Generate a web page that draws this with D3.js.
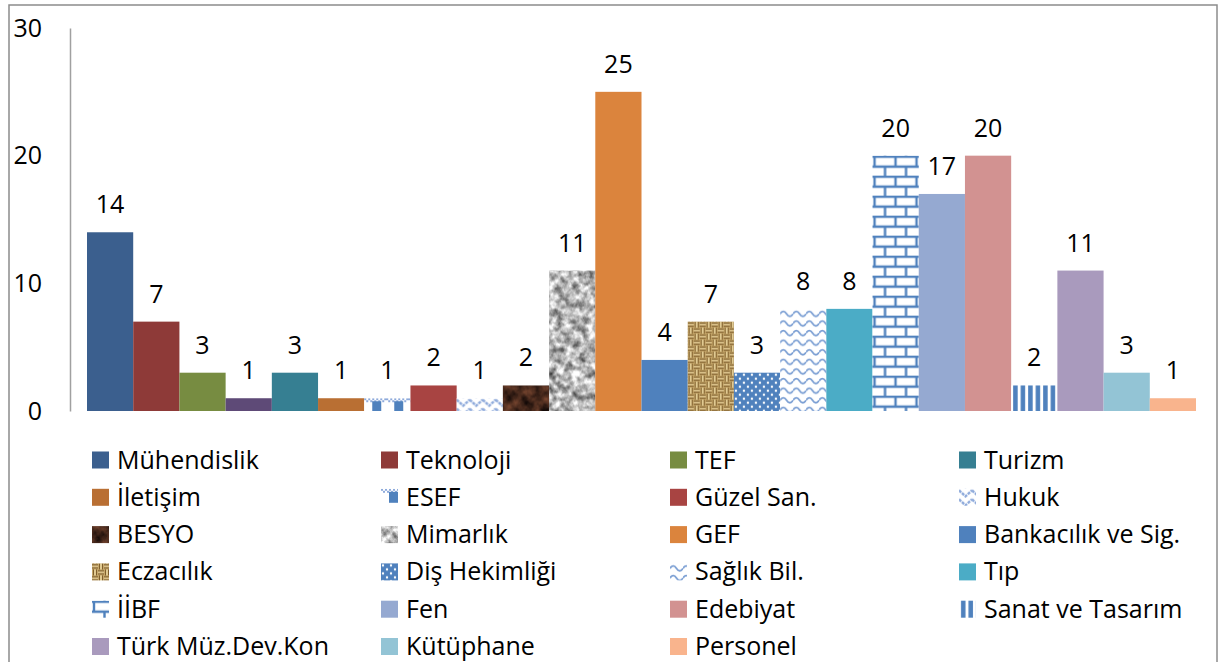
<!DOCTYPE html>
<html>
<head>
<meta charset="utf-8">
<script src="https://cdn.jsdelivr.net/npm/d3@7"></script>
<style>
  body { margin: 0; background: #fff; }
  svg { display: block; font-family: 'Open Sans', sans-serif; }
</style>
</head>
<body>
<div id="chart"></div>
<script>
// one category, 24 series (the 4th series has no legend entry)
var seriesNames = ["Mühendislik", "Teknoloji", "TEF", "", "Turizm", "İletişim", "ESEF",
    "Güzel San.", "Hukuk", "BESYO", "Mimarlık", "GEF", "Bankacılık ve Sig.", "Eczacılık",
    "Diş Hekimliği", "Sağlık Bil.", "Tıp", "İİBF", "Fen", "Edebiyat", "Sanat ve Tasarım",
    "Türk Müz.Dev.Kon", "Kütüphane", "Personel"];
var seriesValues = [14, 7, 3, 1, 3, 1, 1, 2, 1, 2, 11, 25, 4, 7, 3, 8, 8, 20, 17, 20, 2, 11, 3, 1];
var seriesFills = ["#3B5F8E", "#8E3A38", "#778C41", "#5E4A77", "#367F92", "#B96F33", "url(#esef)",
    "#A84442", "url(#hukuk)", "url(#besyo)", "url(#mimarlik)", "#DB843D", "#4F81BD", "url(#eczacilik)",
    "url(#dis)", "url(#saglik)", "#4BACC6", "url(#iibf)", "#95A9D1", "#D29291", "url(#sanat)",
    "#A99ABD", "#93C4D5", "#F9B48D"];
var yTicks = [0, 10, 20, 30];

var width = 1219;
var height = 662;
var blue = "#4F81BD";
var lightBlue = "#8EAADB";

var svg = d3.select("#chart")
    .append("svg")
    .attr("width", width)
    .attr("height", height);

var defs = svg.append("defs");

function pattern(id, w, h) {
    return defs.append("pattern")
        .attr("id", id)
        .attr("patternUnits", "userSpaceOnUse")
        .attr("width", w)
        .attr("height", h);
}

// ESEF: dotted top line with blocks below
var p = pattern("esef", 22, 24);
p.append("rect").attr("width", 22).attr("height", 24).attr("fill", "#fff");
for (var k = 0; k < 22; k += 4) {
    p.append("rect").attr("x", k).attr("y", 0).attr("width", 2).attr("height", 2).attr("fill", lightBlue);
    p.append("rect").attr("x", k + 2).attr("y", 2).attr("width", 2).attr("height", 2).attr("fill", lightBlue);
}
p.append("rect").attr("x", 8).attr("y", 3).attr("width", 9).attr("height", 11).attr("fill", blue);

// Hukuk: zigzag
p = pattern("hukuk", 13, 9);
p.append("rect").attr("width", 13).attr("height", 9).attr("fill", "#fff");
p.append("path").attr("d", "M0,1.5 L6.5,7.5 L13,1.5").attr("fill", "none")
    .attr("stroke", lightBlue).attr("stroke-width", 2.4).attr("stroke-dasharray", "3,1");

// Sağlık Bil.: waves
p = pattern("saglik", 13, 9.6);
p.append("rect").attr("width", 13).attr("height", 9.6).attr("fill", "#fff");
p.append("path").attr("d", "M0,5 Q3.25,0 6.5,5 T13,5").attr("fill", "none")
    .attr("stroke", "#7A9ED3").attr("stroke-width", 1.8);

// Diş Hekimliği: white dots on blue
p = pattern("dis", 8, 8);
p.append("rect").attr("width", 8).attr("height", 8).attr("fill", blue);
p.append("circle").attr("cx", 2).attr("cy", 2).attr("r", 1.2).attr("fill", "#fff");
p.append("circle").attr("cx", 6).attr("cy", 6).attr("r", 1.2).attr("fill", "#fff");

// İİBF: bricks
p = pattern("iibf", 21, 20);
p.append("rect").attr("width", 21).attr("height", 20).attr("fill", "#fff");
p.append("path").attr("d", "M0,1 H21 M0,11 H21 M2,1 V11 M12.5,11 V21")
    .attr("stroke", blue).attr("stroke-width", 2.4).attr("fill", "none");

// Sanat ve Tasarım: vertical stripes
p = pattern("sanat", 7.5, 10);
p.append("rect").attr("width", 7.5).attr("height", 10).attr("fill", "#fff");
p.append("rect").attr("x", 2).attr("width", 4.5).attr("height", 10).attr("fill", blue);

// Eczacılık: burlap weave
p = pattern("eczacilik", 12, 12);
p.append("rect").attr("width", 12).attr("height", 12).attr("fill", "#D2B475");
p.append("path").attr("d", "M0,1.5 H6 M0,4.5 H6 M7.5,0 V6 M10.5,0 V6 M1.5,6 V12 M4.5,6 V12 M6,7.5 H12 M6,10.5 H12")
    .attr("stroke", "#7E5E2C").attr("stroke-width", 1.3);
p.append("path").attr("d", "M0,3 H6 M9,0 V6 M3,6 V12 M6,9 H12")
    .attr("stroke", "#F3E1AC").attr("stroke-width", 1.2);

// noise textures
function noise(id, freq, matrix) {
    var f = defs.append("filter").attr("id", id + "F")
        .attr("x", 0).attr("y", 0).attr("width", 1).attr("height", 1)
        .attr("color-interpolation-filters", "sRGB");
    f.append("feTurbulence").attr("type", "fractalNoise")
        .attr("baseFrequency", freq).attr("numOctaves", 4).attr("seed", 7);
    f.append("feColorMatrix").attr("type", "matrix").attr("values", matrix);
    var pt = pattern(id, 50, 400);
    pt.append("rect").attr("width", 50).attr("height", 400)
        .attr("fill", "#000").attr("filter", "url(#" + id + "F)");
}
noise("mimarlik", 0.13,
    "1.3 0 0 0 0.06  1.3 0 0 0 0.06  1.3 0 0 0 0.06  0 0 0 0 1");
noise("besyo", 0.08,
    "0.75 0 0 0 -0.12  0.45 0 0 0 -0.08  0.3 0 0 0 -0.05  0 0 0 0 1");

// outer frame
svg.append("rect")
    .attr("x", 9)
    .attr("y", 5)
    .attr("width", 1208)
    .attr("height", 700)
    .attr("fill", "none")
    .attr("stroke", "#8c8c8c")
    .attr("stroke-width", 1.5);

var xScale = d3.scaleBand()
    .domain(d3.range(seriesNames.length))
    .range([87, 1196])
    .padding(0);

var yScale = d3.scaleLinear()
    .domain([0, 30])
    .range([411, 28]);

// y axis
var leftAxis = d3.axisLeft(yScale)
    .tickValues(yTicks)
    .tickSize(0)
    .tickSizeOuter(0)
    .tickPadding(28);

var yAxis = svg.append("g")
    .attr("transform", "translate(70,0)")
    .call(leftAxis);
yAxis.select(".domain").attr("stroke", "#a0a0a0").attr("stroke-width", 1.5);
yAxis.selectAll("text")
    .attr("font-family", "'Open Sans', sans-serif")
    .attr("font-size", 25)
    .attr("fill", "#000")
    .attr("dy", "0.32em");

// bars
svg.selectAll("rect.bar")
    .data(seriesValues)
    .enter()
    .append("rect")
    .attr("class", "bar")
    .attr("transform", function(d, i) {
        return "translate(" + xScale(i) + "," + yScale(d) + ")";
    })
    .attr("width", xScale.bandwidth())
    .attr("height", function(d) { return yScale(0) - yScale(d); })
    .attr("fill", function(d, i) { return seriesFills[i]; });

// value labels
svg.selectAll("text.val")
    .data(seriesValues)
    .enter()
    .append("text")
    .attr("class", "val")
    .attr("x", function(d, i) { return xScale(i) + xScale.bandwidth() / 2; })
    .attr("y", function(d) { return yScale(d) - 19; })
    .attr("text-anchor", "middle")
    .attr("font-size", 25)
    .attr("fill", "#000")
    .text(function(d) { return d; });

// legend, 4 columns, row-major
var legendItems = seriesNames
    .map(function(n, i) { return { name: n, fill: seriesFills[i] }; })
    .filter(function(d) { return d.name !== ""; });

var legendX = d3.scaleLinear().domain([0, 3]).range([92, 959]);
var legendY = d3.scaleLinear().domain([0, 5]).range([460, 646.5]);

var item = svg.selectAll("g.legend")
    .data(legendItems)
    .enter()
    .append("g")
    .attr("class", "legend");

item.append("rect")
    .attr("transform", function(d, i) {
        return "translate(" + legendX(i % 4) + "," + (legendY(Math.floor(i / 4)) - 8.5) + ")";
    })
    .attr("width", 17)
    .attr("height", 17)
    .attr("fill", function(d) { return d.fill; });

item.append("text")
    .attr("x", function(d, i) { return legendX(i % 4) + 25; })
    .attr("y", function(d, i) { return legendY(Math.floor(i / 4)) + 8.5; })
    .attr("font-size", 25)
    .attr("fill", "#000")
    .text(function(d) { return d.name; });
</script>
</body>
</html>
